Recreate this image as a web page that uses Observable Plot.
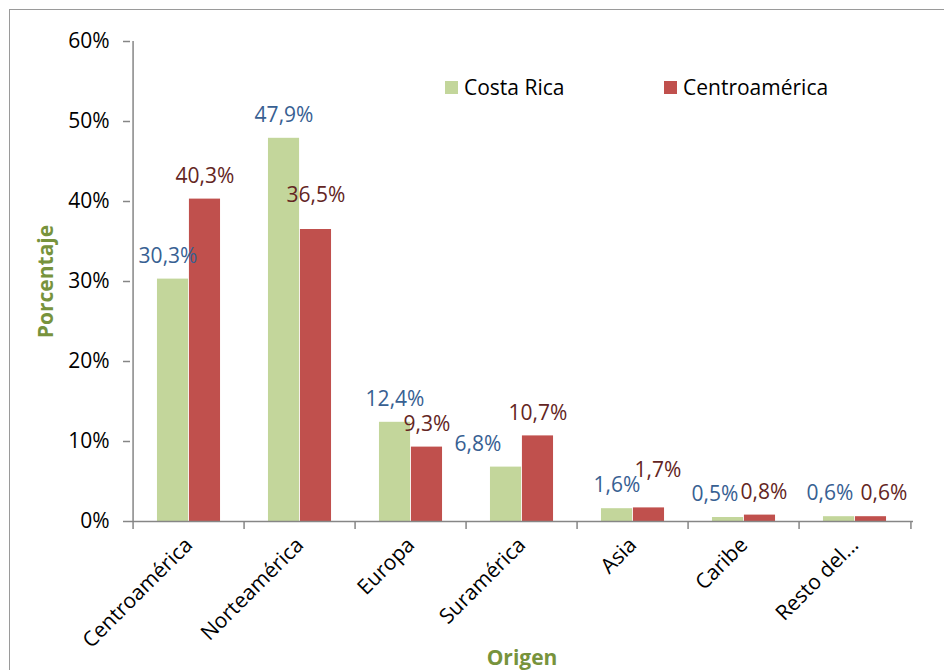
<!DOCTYPE html>
<html>
<head>
<meta charset="utf-8">
<script src="https://cdn.jsdelivr.net/npm/d3@7"></script>
<script src="https://cdn.jsdelivr.net/npm/@observablehq/plot@0.6"></script>
<style>
  html, body { margin: 0; padding: 0; background: #fff; }
  #wrap { position: relative; width: 944px; height: 670px; overflow: hidden; font-family: "Open Sans", sans-serif; }
  #border { position: absolute; left: 9px; top: 9px; width: 1000px; height: 1000px; border: 1.5px solid #9a9a9a; box-sizing: border-box; }
  .leg { position: absolute; top: 72px; display: flex; align-items: center; font-size: 21px; color: #000; line-height: 30px; }
  .leg span.sw { display: inline-block; width: 13px; height: 13px; margin-right: 6px; }
  #chart { position: absolute; left: 0; top: 0; }
</style>
</head>
<body>
<div id="wrap">
  <div id="border"></div>
  <div id="chart"></div>
  <div class="leg" style="left:445px"><span class="sw" style="background:#C3D69B"></span><span class="lt">Costa Rica</span></div>
  <div class="leg" style="left:664px"><span class="sw" style="background:#C0504D"></span><span class="lt">Centroamérica</span></div>
</div>
<script>
const categories = ["Centroamérica", "Norteamérica", "Europa", "Suramérica", "Asia", "Caribe", "Resto del..."];
const costaRica = [30.3, 47.9, 12.4, 6.8, 1.6, 0.5, 0.6];
const centroamerica = [40.3, 36.5, 9.3, 10.7, 1.7, 0.8, 0.6];
const yTicks = [0, 10, 20, 30, 40, 50, 60];
const seriesNames = ["Costa Rica", "Centroamérica"];

const rows = categories.map((c, i) => ({cat: c, cr: costaRica[i], ca: centroamerica[i]}));
const fmt = v => v.toFixed(1).replace(".", ",") + "%";

const W = 944, H = 670, mL = 130, mR = 31, mT = 41, mB = 149;
const bw = (W - mL - mR) / categories.length;
const gap = bw * 24 / 112, barW = bw * 32 / 112;
const axisGray = "#868686";
const titleGreen = "#77933C";
const FS = 21;

// label nudges (pixel offsets, as moved by hand in the original chart)
const nudgeCR = {"Centroamérica": [-5, 0], "Suramérica": [-28, 0], "Caribe": [-13, 0], "Resto del...": [-9, 0]};
const nudgeCA = {"Norteamérica": [0, -11], "Asia": [9, -15], "Caribe": [4, 0], "Resto del...": [13, 0]};

const labelMarks = [];
rows.forEach(r => {
  const a = nudgeCR[r.cat] || [0, 0];
  const b = nudgeCA[r.cat] || [0, 0];
  labelMarks.push(Plot.text([r], {x: "cat", y: "cr", text: d => fmt(d.cr), dx: -barW / 2 + a[0], dy: -23 + a[1], fill: "#376092", fontSize: FS}));
  labelMarks.push(Plot.text([r], {x: "cat", y: "ca", text: d => fmt(d.ca), dx: barW / 2 + b[0], dy: -23 + b[1], fill: "#632523", fontSize: FS}));
});

const chart = Plot.plot({
  width: W, height: H,
  marginLeft: mL, marginRight: mR, marginTop: mT, marginBottom: mB,
  style: {fontFamily: "Open Sans, sans-serif", fontSize: FS + "px", color: "#000", background: "transparent", overflow: "visible"},
  x: {domain: categories, padding: 0, label: null},
  y: {domain: [0, 60], label: null},
  marks: [
    Plot.barY(rows, {x: "cat", y: "cr", fill: "#C3D69B", insetLeft: gap, insetRight: bw - gap - barW}),
    Plot.barY(rows, {x: "cat", y: "ca", fill: "#C0504D", insetLeft: gap + barW, insetRight: gap}),
    Plot.ruleY([0], {stroke: axisGray, strokeWidth: 1.5}),
    Plot.ruleX([categories[0]], {x: d => d, y1: 0, y2: 60, dx: -bw / 2, stroke: axisGray, strokeWidth: 1.5}),
    Plot.ruleX(categories, {x: d => d, y1: 0, y2: 0, dx: -bw / 2, insetBottom: -8, stroke: axisGray, strokeWidth: 1.5}),
    Plot.ruleX([categories[categories.length - 1]], {x: d => d, y1: 0, y2: 0, dx: bw / 2, insetBottom: -8, stroke: axisGray, strokeWidth: 1.5}),
    Plot.axisY({ticks: yTicks, tickFormat: d => d + "%", tickSize: 7, tickPadding: 14, stroke: axisGray, strokeWidth: 1.5, fill: "#000", fontSize: FS}),
    Plot.axisX({tickSize: 0, tickPadding: 20, tickRotate: -45, fill: "#000", fontSize: FS, label: null}),
    ...labelMarks,
    Plot.text(["Porcentaje"], {frameAnchor: "left", text: d => d, rotate: -90, dx: -84, textAnchor: "middle", lineAnchor: "middle", fill: titleGreen, fontWeight: "bold", fontSize: FS}),
    Plot.text(["Origen"], {frameAnchor: "bottom", text: d => d, dy: 137, textAnchor: "middle", lineAnchor: "middle", fill: titleGreen, fontWeight: "bold", fontSize: FS})
  ]
});
document.getElementById("chart").appendChild(chart);
</script>
</body>
</html>
